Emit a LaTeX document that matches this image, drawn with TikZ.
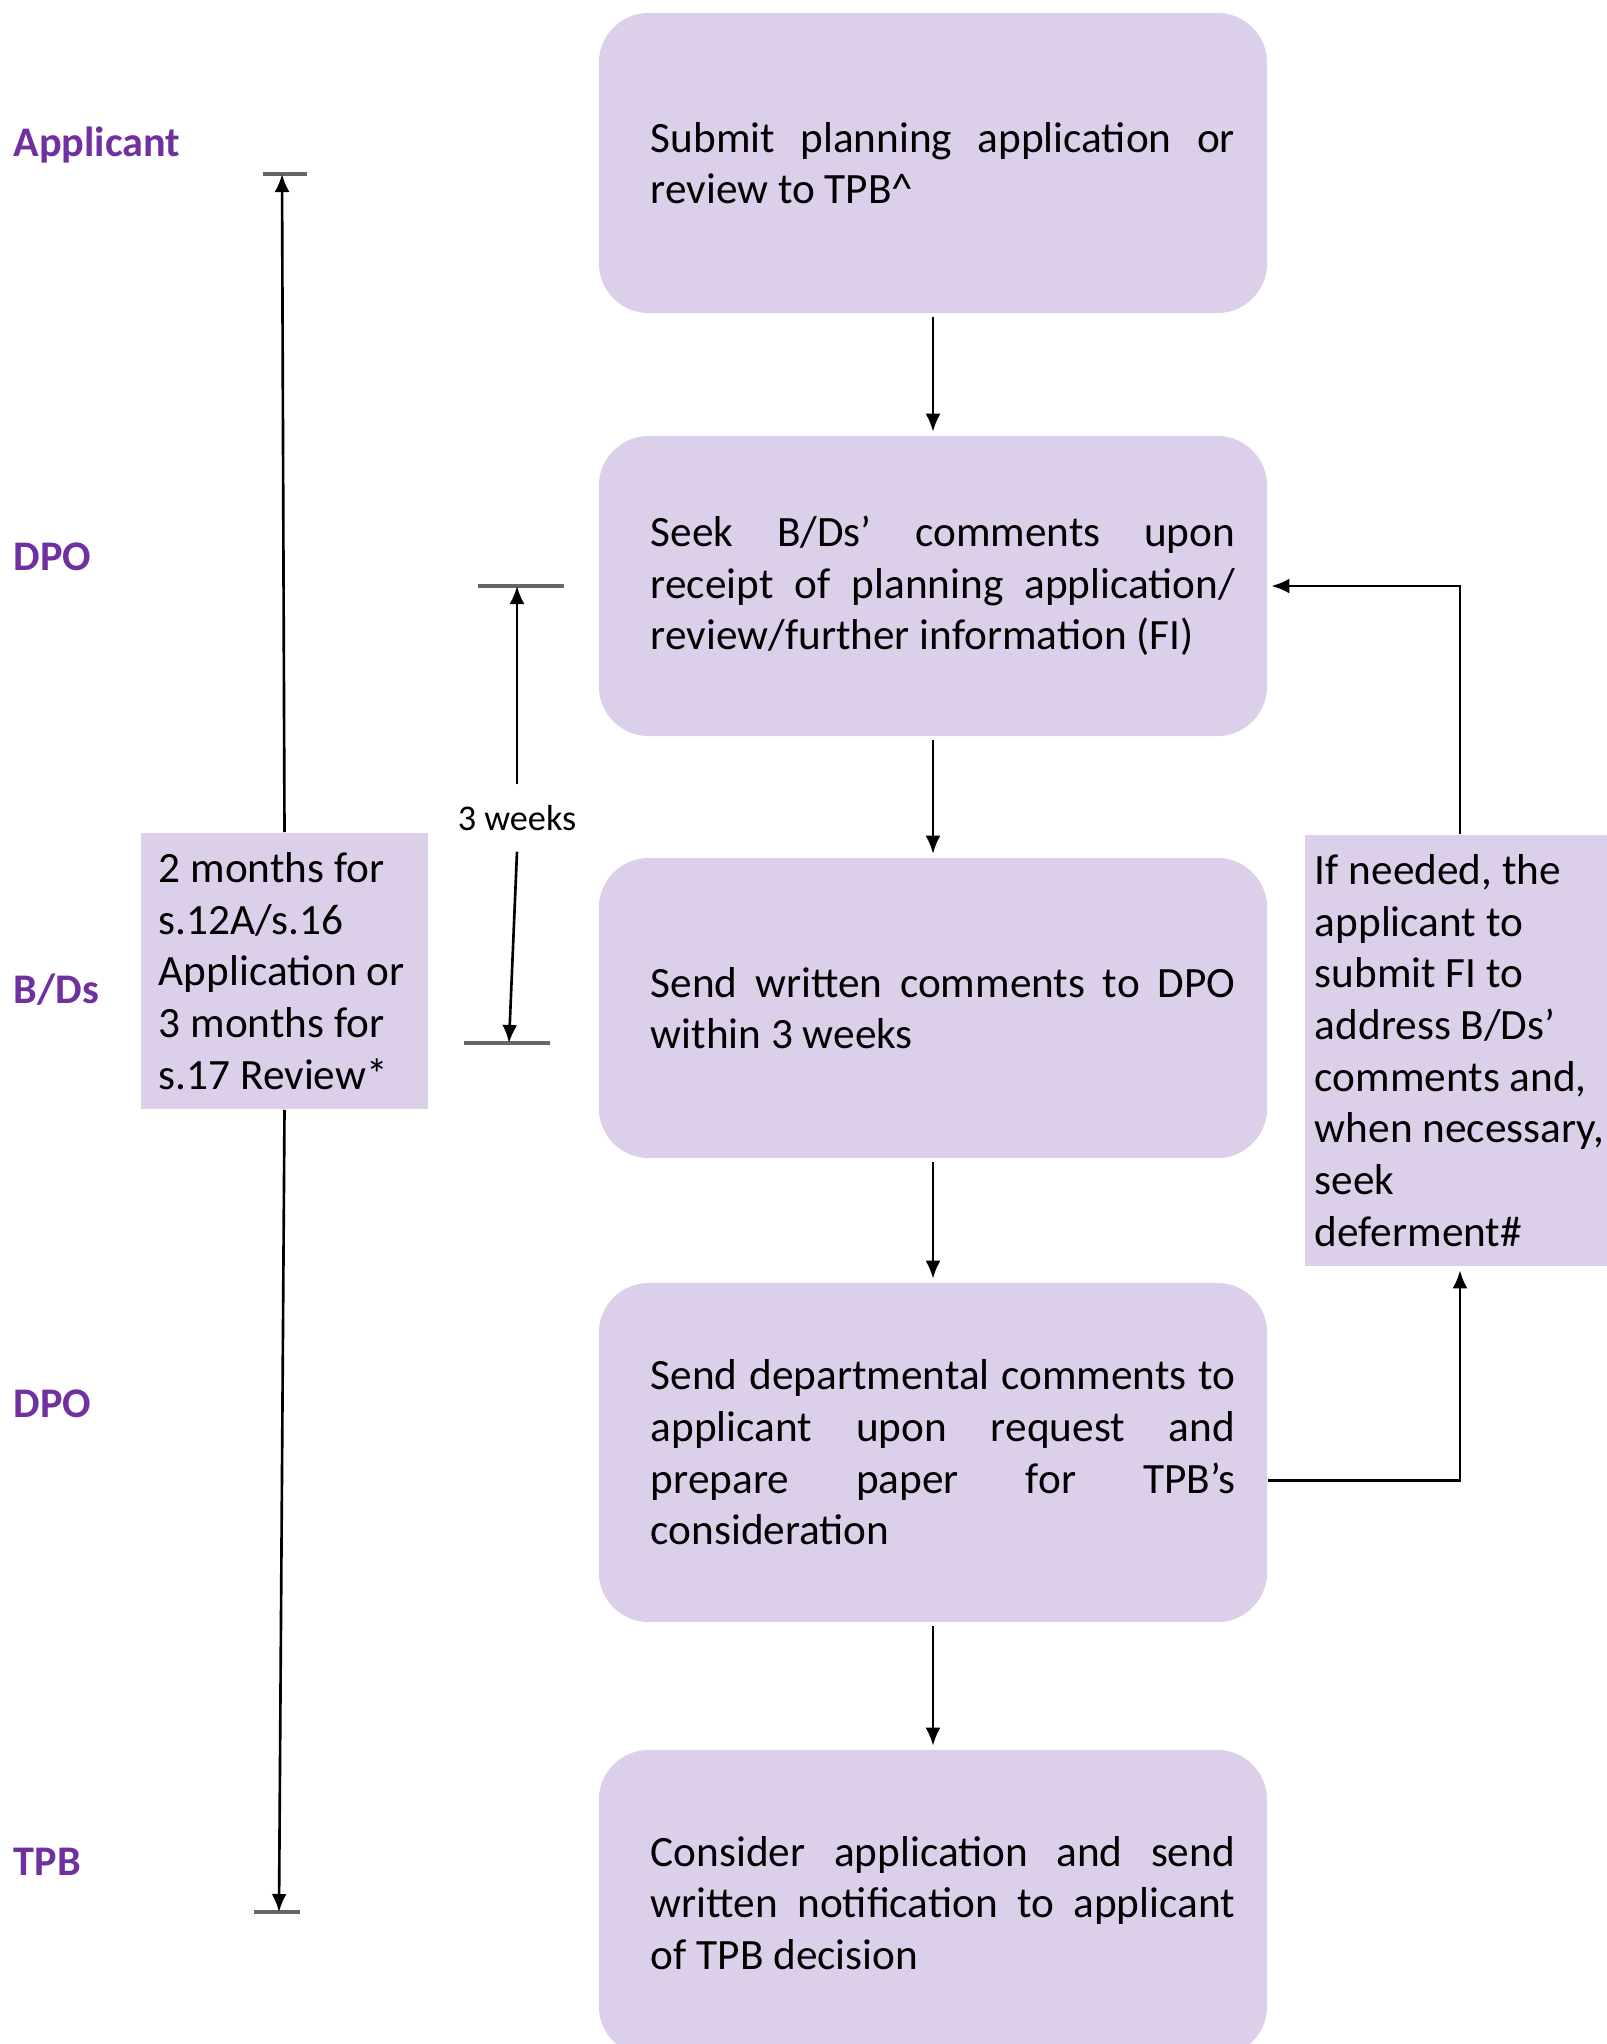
\documentclass[tikz,border=0pt]{standalone}
\usepackage{fontspec}
\setmainfont{Carlito}
\usepackage{xcolor}
\usetikzlibrary{arrows.meta, positioning, calc}

\definecolor{boxfill}{HTML}{DCCFEA}
\definecolor{rolepurple}{HTML}{7030A0}
\newcommand{\jline}[1]{\makebox[\linewidth][s]{#1}}
\newcommand{\steptext}[1]{\hspace*{0.2cm}\parbox{5.84cm}{\raggedright #1}}

\begin{document}
\begin{tikzpicture}[x=0.01cm, y=-0.01cm, font=\fontsize{12.3pt}{14.7pt}\selectfont,
	stepbox/.style={rectangle, rounded corners=0.5cm, fill=boxfill, minimum width=6.68cm, minimum height=3cm, inner sep=0pt},
	notebox/.style={rectangle, fill=boxfill, inner sep=0pt},
	role/.style={anchor=west, inner sep=0pt, text=rolepurple, font=\fontsize{12pt}{14pt}\selectfont\bfseries},
	arr/.style={-{Latex[length=1.8mm,width=1.5mm]}, line width=0.75pt},
	tick/.style={draw=black!60, line width=1pt}]
		\clip (0,0) rectangle (1607,2044);
		% roles
		\node [role] (lApplicant) at (13,145) {Applicant};
		\node [role] (lDPOa) at (13,557) {DPO};
		\node [role] (lBDs) at (13,990) {B/Ds};
		\node [role] (lDPOb) at (13,1404) {DPO};
		\node [role] (lTPB) at (13,1862) {TPB};
		% process boxes
		\node [stepbox] (submit) at (933,163) {\steptext{\jline{Submit planning application or}\\review to TPB\^{}}};
		\node [stepbox] (seek) at (933,586) {\steptext{\jline{Seek B/Ds' comments upon}\\\jline{receipt of planning application/}\\review/further information (FI)}};
		\node [stepbox] (send) at (933,1008) {\steptext{\jline{Send written comments to DPO}\\within 3 weeks}};
		\node [stepbox, minimum height=3.39cm] (prepare) at (933,1452.5) {\steptext{\jline{Send departmental comments to}\\\jline{applicant upon request and}\\\jline{prepare paper for TPB's}\\consideration}};
		\node [stepbox, minimum height=3.06cm] (decide) at (933,1903) {\steptext{\jline{Consider application and send}\\\jline{written notification to applicant}\\of TPB decision}};
		% side notes
		\node [notebox, minimum width=2.87cm, minimum height=2.76cm] (months) at (284.5,971) {\parbox{2.51cm}{\raggedright 2 months for\\s.12A/s.16\\Application or\\3 months for\\s.17 Review*}};
		\node [notebox, minimum width=3.1cm, minimum height=4.31cm] (further) at (1460,1050.5) {\parbox{2.9cm}{\raggedright If needed, the\\applicant to\\submit FI to\\address B/Ds'\\comments and,\\when necessary,\\seek\\deferment\#}};
		\node [inner sep=0pt, minimum height=0.66cm, font=\fontsize{10.3pt}{12pt}\selectfont] (weeks) at (517,818) {3 weeks};
		% time bars
		\coordinate (tTop) at (282,174);
		\coordinate (tBot) at (279,1912);
		\coordinate (wTop) at (517,586);
		\coordinate (wBot) at (509,1043);
		\draw [tick] ([xshift=-0.19cm]tTop) -- ([xshift=0.25cm]tTop);
		\draw [tick] ([xshift=-0.25cm]tBot) -- ([xshift=0.21cm]tBot);
		\draw [tick] ([xshift=-0.39cm]wTop) -- ([xshift=0.47cm]wTop);
		\draw [tick] ([xshift=-0.45cm]wBot) -- ([xshift=0.41cm]wBot);
		\draw [arr] (months.north) -- (tTop);
		\draw [arr] (months.south) -- (tBot);
		\draw [arr] (weeks.north) -- (wTop);
		\draw [arr] (weeks.south) -- (wBot);
		% flow
		\draw [arr, shorten <=1pt, shorten >=1pt] (submit) -- (seek);
		\draw [arr, shorten <=1pt, shorten >=1pt] (seek) -- (send);
		\draw [arr, shorten <=1pt, shorten >=1pt] (send) -- (prepare);
		\draw [arr, shorten <=1pt, shorten >=1pt] (prepare) -- (decide);
		% FI loop
		\coordinate (fiOut) at ([yshift=-0.28cm]prepare.east);
		\draw [arr, shorten >=1pt] (fiOut) -| (further.south);
		\draw [arr, shorten >=1pt] (further.north) |- (seek.east);
	\end{tikzpicture}
\end{document}
